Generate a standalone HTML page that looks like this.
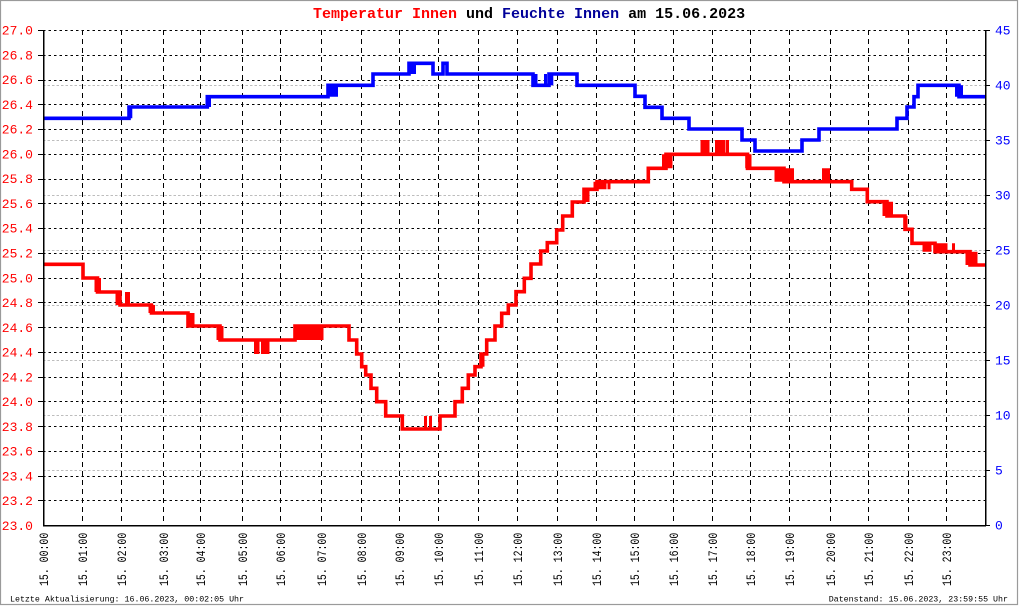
<!DOCTYPE html>
<html><head><meta charset="utf-8"><style>
html,body{margin:0;padding:0;background:#fff;}
svg{display:block;}
text{font-family:"Liberation Mono",monospace;}
</style></head><body>
<svg width="1020" height="606" viewBox="0 0 1020 606" xmlns="http://www.w3.org/2000/svg">
<rect x="0" y="0" width="1020" height="606" fill="#fff"/>
<rect x="0.5" y="0.5" width="1017" height="604" fill="none" stroke="#9a9a9a" stroke-width="1.2"/>

<!-- gray humidity grid -->
<g stroke="#bdbdbd" stroke-width="1" stroke-dasharray="2.5 2" shape-rendering="crispEdges">
<line x1="43" x2="985" y1="85.5" y2="85.5"/>
<line x1="43" x2="985" y1="140.5" y2="140.5"/>
<line x1="43" x2="985" y1="195.5" y2="195.5"/>
<line x1="43" x2="985" y1="250.5" y2="250.5"/>
<line x1="43" x2="985" y1="305.5" y2="305.5"/>
<line x1="43" x2="985" y1="360.5" y2="360.5"/>
<line x1="43" x2="985" y1="415.5" y2="415.5"/>
<line x1="43" x2="985" y1="470.5" y2="470.5"/>
</g>

<!-- black dotted horizontal grid -->
<g stroke="#000" stroke-width="1" stroke-dasharray="2.5 3" shape-rendering="crispEdges">
<line x1="43" x2="985" y1="30.5" y2="30.5"/>
<line x1="43" x2="985" y1="55.5" y2="55.5"/>
<line x1="43" x2="985" y1="80.5" y2="80.5"/>
<line x1="43" x2="985" y1="104.5" y2="104.5"/>
<line x1="43" x2="985" y1="129.5" y2="129.5"/>
<line x1="43" x2="985" y1="154.5" y2="154.5"/>
<line x1="43" x2="985" y1="179.5" y2="179.5"/>
<line x1="43" x2="985" y1="203.5" y2="203.5"/>
<line x1="43" x2="985" y1="228.5" y2="228.5"/>
<line x1="43" x2="985" y1="253.5" y2="253.5"/>
<line x1="43" x2="985" y1="278.5" y2="278.5"/>
<line x1="43" x2="985" y1="302.5" y2="302.5"/>
<line x1="43" x2="985" y1="327.5" y2="327.5"/>
<line x1="43" x2="985" y1="352.5" y2="352.5"/>
<line x1="43" x2="985" y1="377.5" y2="377.5"/>
<line x1="43" x2="985" y1="401.5" y2="401.5"/>
<line x1="43" x2="985" y1="426.5" y2="426.5"/>
<line x1="43" x2="985" y1="451.5" y2="451.5"/>
<line x1="43" x2="985" y1="476.5" y2="476.5"/>
<line x1="43" x2="985" y1="500.5" y2="500.5"/>
</g>

<!-- vertical dashed hour grid -->
<g stroke="#000" stroke-width="1" stroke-dasharray="5 4" shape-rendering="crispEdges">
<line y1="30" y2="525" x1="82.5" x2="82.5"/>
<line y1="30" y2="525" x1="121.5" x2="121.5"/>
<line y1="30" y2="525" x1="163.5" x2="163.5"/>
<line y1="30" y2="525" x1="200.5" x2="200.5"/>
<line y1="30" y2="525" x1="242.5" x2="242.5"/>
<line y1="30" y2="525" x1="280.5" x2="280.5"/>
<line y1="30" y2="525" x1="321.5" x2="321.5"/>
<line y1="30" y2="525" x1="361.5" x2="361.5"/>
<line y1="30" y2="525" x1="399.5" x2="399.5"/>
<line y1="30" y2="525" x1="438.5" x2="438.5"/>
<line y1="30" y2="525" x1="478.5" x2="478.5"/>
<line y1="30" y2="525" x1="517.5" x2="517.5"/>
<line y1="30" y2="525" x1="557.5" x2="557.5"/>
<line y1="30" y2="525" x1="596.5" x2="596.5"/>
<line y1="30" y2="525" x1="634.5" x2="634.5"/>
<line y1="30" y2="525" x1="673.5" x2="673.5"/>
<line y1="30" y2="525" x1="712.5" x2="712.5"/>
<line y1="30" y2="525" x1="750.5" x2="750.5"/>
<line y1="30" y2="525" x1="789.5" x2="789.5"/>
<line y1="30" y2="525" x1="830.5" x2="830.5"/>
<line y1="30" y2="525" x1="868.5" x2="868.5"/>
<line y1="30" y2="525" x1="908.5" x2="908.5"/>
<line y1="30" y2="525" x1="946.5" x2="946.5"/>
</g>

<!-- Humidity (blue) -->
<path fill="none" stroke="#0000ff" stroke-width="3.6" stroke-linejoin="miter" d="M43,118.3 H129 V107 H207.3 V96.7 H328 V85.3 H373 V74 H409 V63.3 H433 V74 H443 V63.3 H447 V74 H533 V85.3 H549 V74 H577 V85.3 H635 V96.3 H645 V107.3 H662 V118.3 H689 V129 H742 V140 H755 V151 H802 V140 H819 V129 H897 V118.3 H907 V107 H914 V96.7 H918 V85.3 H959 V96.7 H985"/>
<path fill="none" stroke="#0000ff" stroke-width="3" d="M130.8,107V118.3 M209.5,96.7V107 M331,85.3V96.7 M334,85.3V96.7 M336.5,85.3V96.7 M411.8,63.3V74 M414.5,63.3V74 M536,74V85.3 M545.5,74V85.3 M551.8,74V85.3 M956.5,85.3V96.7 M961.5,85.3V96.7"/>

<!-- Temperature (red) -->
<path fill="none" stroke="#ff0000" stroke-width="3.6" stroke-linejoin="miter" d="M43,264.3 H83 V278 H97.5 V292 H120 V305 H151.5 V313 H188 V326 H220 V340 H295 V326 H349 V340 H356.7 V354 H361.7 V366.7 H365.7 V375 H371 V388.3 H376.7 V401.7 H385.7 V416 H402.3 V429 H440 V416 H455 V401.7 H462.3 V388.3 H468.3 V375 H475 V366.7 H481 V354 H486.7 V340 H495 V326 H501.7 V313.3 H508.3 V305 H516 V291.7 H524.3 V278.3 H531 V264 H540.7 V251 H547.3 V242.7 H556.7 V230 H562.7 V216 H572.3 V202 H584 V189.3 H597 V181.7 H648.3 V168.3 H666 V154.3 H747.5 V168.3 H784 V181.7 H851.7 V189.3 H867.3 V201.7 H887 V216 H905 V229.3 H912 V243.3 H935 V251.7 H970 V265 H985"/>
<path fill="none" stroke="#ff0000" stroke-width="3" d="M96,278V292 M99.5,278V292 M117,292V305 M119,292V305 M126.5,292V305 M128.5,292V305 M150,305V313 M153.5,305V313 M190.5,313V326 M193,313V326 M218,326V340 M222,326V340 M255.5,340V354 M258,340V354 M262.5,340V354 M265,340V354 M268,340V354 M298,326V340 M301,326V340 M304,326V340 M307,326V340 M310,326V340 M313,326V340 M316,326V340 M319,326V340 M322,326V340 M425.5,416V429 M430.5,416V429 M483,354V366.7 M586,189.3V202 M588,189.3V202 M595,181.7V189.3 M599,181.7V189.3 M602,181.7V189.3 M605,181.7V189.3 M609,181.7V189.3 M663.5,154.3V168.3 M668.5,154.3V168.3 M671,154.3V168.3 M702,140V154.3 M705,140V154.3 M708,140V154.3 M716.5,140V154.3 M719,140V154.3 M721.5,140V154.3 M724,140V154.3 M727.5,140V154.3 M746.7,154.3V168.3 M750,154.3V168.3 M776,168.3V181.7 M778.5,168.3V181.7 M781,168.3V181.7 M787,168.3V181.7 M790,168.3V181.7 M792.5,168.3V181.7 M823.5,168.3V181.7 M826,168.3V181.7 M828.5,168.3V181.7 M884,201.7V216 M889.5,201.7V216 M891.5,201.7V216 M906,216V229.3 M924,243.3V251.7 M927,243.3V251.7 M930,243.3V251.7 M937,243.3V251.7 M940,243.3V251.7 M943,243.3V251.7 M946,243.3V251.7 M953.5,243.3V251.7 M967,251.7V265 M973,251.7V265 M976,251.7V265"/>

<!-- axes -->
<g stroke="#000" stroke-width="1.5" shape-rendering="crispEdges">
<line x1="43.5" y1="30" x2="43.5" y2="526"/>
<line x1="985.5" y1="30" x2="985.5" y2="526"/>
<line x1="43" y1="525.5" x2="986" y2="525.5"/>
</g>
<g stroke="#000" stroke-width="1" shape-rendering="crispEdges">
<line x1="38" x2="43" y1="30.5" y2="30.5"/><line x1="38" x2="43" y1="55.5" y2="55.5"/><line x1="38" x2="43" y1="80.5" y2="80.5"/><line x1="38" x2="43" y1="104.5" y2="104.5"/><line x1="38" x2="43" y1="129.5" y2="129.5"/><line x1="38" x2="43" y1="154.5" y2="154.5"/><line x1="38" x2="43" y1="179.5" y2="179.5"/><line x1="38" x2="43" y1="203.5" y2="203.5"/><line x1="38" x2="43" y1="228.5" y2="228.5"/><line x1="38" x2="43" y1="253.5" y2="253.5"/><line x1="38" x2="43" y1="278.5" y2="278.5"/><line x1="38" x2="43" y1="302.5" y2="302.5"/><line x1="38" x2="43" y1="327.5" y2="327.5"/><line x1="38" x2="43" y1="352.5" y2="352.5"/><line x1="38" x2="43" y1="377.5" y2="377.5"/><line x1="38" x2="43" y1="401.5" y2="401.5"/><line x1="38" x2="43" y1="426.5" y2="426.5"/><line x1="38" x2="43" y1="451.5" y2="451.5"/><line x1="38" x2="43" y1="476.5" y2="476.5"/><line x1="38" x2="43" y1="500.5" y2="500.5"/>
<line x1="985" x2="990" y1="30.5" y2="30.5"/><line x1="985" x2="990" y1="85.5" y2="85.5"/><line x1="985" x2="990" y1="140.5" y2="140.5"/><line x1="985" x2="990" y1="195.5" y2="195.5"/><line x1="985" x2="990" y1="250.5" y2="250.5"/><line x1="985" x2="990" y1="305.5" y2="305.5"/><line x1="985" x2="990" y1="360.5" y2="360.5"/><line x1="985" x2="990" y1="415.5" y2="415.5"/><line x1="985" x2="990" y1="470.5" y2="470.5"/><line x1="985" x2="990" y1="525.5" y2="525.5"/>
</g>

<!-- title -->
<text x="313" y="18" font-size="15" font-weight="bold"><tspan fill="#ff0000">Temperatur Innen</tspan><tspan fill="#000"> und </tspan><tspan fill="#000099">Feuchte Innen</tspan><tspan fill="#000"> am 15.06.2023</tspan></text>

<!-- left labels -->
<g fill="#ff0000" font-size="13" text-anchor="end">
<text x="33" y="34.5">27.0</text><text x="33" y="59.3">26.8</text><text x="33" y="84.1">26.6</text><text x="33" y="108.8">26.4</text><text x="33" y="133.6">26.2</text><text x="33" y="158.4">26.0</text><text x="33" y="183.2">25.8</text><text x="33" y="207.9">25.6</text><text x="33" y="232.7">25.4</text><text x="33" y="257.5">25.2</text><text x="33" y="282.3">25.0</text><text x="33" y="307">24.8</text><text x="33" y="331.8">24.6</text><text x="33" y="356.6">24.4</text><text x="33" y="381.4">24.2</text><text x="33" y="406.1">24.0</text><text x="33" y="430.9">23.8</text><text x="33" y="455.7">23.6</text><text x="33" y="480.5">23.4</text><text x="33" y="505.2">23.2</text><text x="33" y="530">23.0</text>
</g>

<!-- right labels -->
<g fill="#0000ff" font-size="13">
<text x="995" y="34.5">45</text><text x="995" y="89.5">40</text><text x="995" y="144.5">35</text><text x="995" y="199.5">30</text><text x="995" y="254.5">25</text><text x="995" y="309.5">20</text><text x="995" y="364.5">15</text><text x="995" y="419.5">10</text><text x="995" y="474.5">5</text><text x="995" y="529.5">0</text>
</g>

<!-- x labels (rotated) -->
<g fill="#000" font-size="12.5">
<text transform="translate(48,586) rotate(-90) scale(0.79,1)">15. 00:00</text>
<text transform="translate(87,586) rotate(-90) scale(0.79,1)">15. 01:00</text>
<text transform="translate(126,586) rotate(-90) scale(0.79,1)">15. 02:00</text>
<text transform="translate(168,586) rotate(-90) scale(0.79,1)">15. 03:00</text>
<text transform="translate(205,586) rotate(-90) scale(0.79,1)">15. 04:00</text>
<text transform="translate(247,586) rotate(-90) scale(0.79,1)">15. 05:00</text>
<text transform="translate(285,586) rotate(-90) scale(0.79,1)">15. 06:00</text>
<text transform="translate(326,586) rotate(-90) scale(0.79,1)">15. 07:00</text>
<text transform="translate(366,586) rotate(-90) scale(0.79,1)">15. 08:00</text>
<text transform="translate(404,586) rotate(-90) scale(0.79,1)">15. 09:00</text>
<text transform="translate(443,586) rotate(-90) scale(0.79,1)">15. 10:00</text>
<text transform="translate(483,586) rotate(-90) scale(0.79,1)">15. 11:00</text>
<text transform="translate(522,586) rotate(-90) scale(0.79,1)">15. 12:00</text>
<text transform="translate(562,586) rotate(-90) scale(0.79,1)">15. 13:00</text>
<text transform="translate(601,586) rotate(-90) scale(0.79,1)">15. 14:00</text>
<text transform="translate(639,586) rotate(-90) scale(0.79,1)">15. 15:00</text>
<text transform="translate(678,586) rotate(-90) scale(0.79,1)">15. 16:00</text>
<text transform="translate(717,586) rotate(-90) scale(0.79,1)">15. 17:00</text>
<text transform="translate(755,586) rotate(-90) scale(0.79,1)">15. 18:00</text>
<text transform="translate(794,586) rotate(-90) scale(0.79,1)">15. 19:00</text>
<text transform="translate(835,586) rotate(-90) scale(0.79,1)">15. 20:00</text>
<text transform="translate(873,586) rotate(-90) scale(0.79,1)">15. 21:00</text>
<text transform="translate(913,586) rotate(-90) scale(0.79,1)">15. 22:00</text>
<text transform="translate(951,586) rotate(-90) scale(0.79,1)">15. 23:00</text>
</g>

<!-- footer -->
<text x="10" y="601.5" font-size="8.3" fill="#000">Letzte Aktualisierung: 16.06.2023, 00:02:05 Uhr</text>
<text x="1008" y="601.5" font-size="8.3" fill="#000" text-anchor="end">Datenstand: 15.06.2023, 23:59:55 Uhr</text>
</svg>
</body></html>
